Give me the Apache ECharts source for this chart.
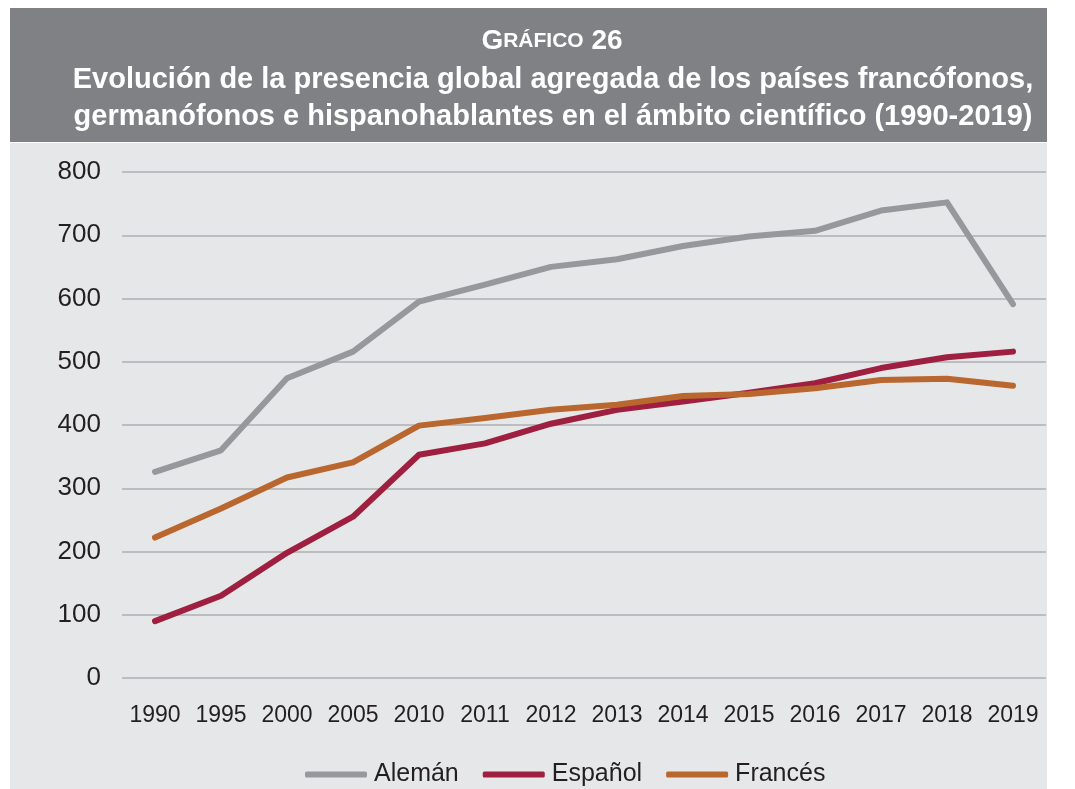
<!DOCTYPE html>
<html>
<head>
<meta charset="utf-8">
<script src="https://cdn.jsdelivr.net/npm/echarts@6/dist/echarts.min.js"></script>
<style>html,body{margin:0;padding:0;background:#fff;}#c{width:1075px;height:789px;}</style>
</head>
<body>
<div id="c"></div>
<script>
const categories = ['1990','1995','2000','2005','2010','2011','2012','2013','2014','2015','2016','2017','2018','2019'];
const aleman  = [326, 360, 474, 516, 595, 622, 650, 662, 683, 698, 707, 739, 752, 591];
const espanol = [90, 130, 198, 255, 353, 371, 402, 424, 437, 451, 466, 490, 507, 516];
const frances = [222, 268, 317, 341, 399, 411, 424, 432, 446, 449, 458, 471, 473, 462];
const yTicks = [0, 100, 200, 300, 400, 500, 600, 700, 800];

const FONT = '"Liberation Sans", Arial, Helvetica, sans-serif';
const chart = echarts.init(document.getElementById('c'));
const mk = (name, data, color) => ({
  name, type: 'line', data, symbol: 'none', smooth: false,
  lineStyle: { color, width: 6, cap: 'round', join: 'round' },
  itemStyle: { color }
});
chart.setOption({
  animation: false,
  graphic: [
    { type: 'rect', shape: { x: 10, y: 8, width: 1037, height: 134 }, style: { fill: '#808184' }, z: -10 },
    { type: 'rect', shape: { x: 10, y: 143, width: 1037, height: 646 }, style: { fill: '#e6e7e8' }, z: -10 }
  ],
  title: [
    {
      text: '{a|G}{b|RÁFICO}{a| 26}',
      left: 547, textAlign: 'center', top: 22,
      textStyle: {
        rich: {
          a: { fontFamily: FONT, fontSize: 28, fontWeight: 'bold', color: '#fff' },
          b: { fontFamily: FONT, fontSize: 21, fontWeight: 'bold', color: '#fff' }
        }
      }
    },
    {
      text: 'Evolución de la presencia global agregada de los países francófonos,\ngermanófonos e hispanohablantes en el ámbito científico (1990-2019)',
      left: 548, textAlign: 'center', top: 56,
      textStyle: { fontFamily: FONT, fontSize: 29, fontWeight: 'bold', color: '#fff', lineHeight: 37 }
    }
  ],
  legend: {
    bottom: -3, left: 300,
    itemWidth: 62, itemHeight: 6, itemGap: 24,
    icon: 'roundRect',
    textStyle: { fontFamily: FONT, fontSize: 25, color: '#231f20', padding: [0, 0, 0, 2] },
    data: ['Alemán', 'Español', 'Francés']
  },
  grid: { left: 122, right: 29, top: 172, bottom: 111, containLabel: false },
  xAxis: {
    type: 'category', data: categories, boundaryGap: true,
    axisLine: { show: false }, axisTick: { show: false },
    axisLabel: { fontFamily: FONT, fontSize: 23, color: '#231f20', margin: 26, interval: 0 }
  },
  yAxis: {
    type: 'value', min: 0, max: 800, interval: 100,
    axisLine: { show: false }, axisTick: { show: false },
    axisLabel: { fontFamily: FONT, fontSize: 26, color: '#231f20', margin: 21,
      formatter: v => yTicks.includes(v) ? String(v) : '' },
    splitLine: { lineStyle: { color: '#bcbdc0', width: 2 } }
  },
  series: [
    mk('Alemán', aleman, '#97989b'),
    mk('Español', espanol, '#9e1f3f'),
    mk('Francés', frances, '#b9662f')
  ]
});
</script>
</body>
</html>
